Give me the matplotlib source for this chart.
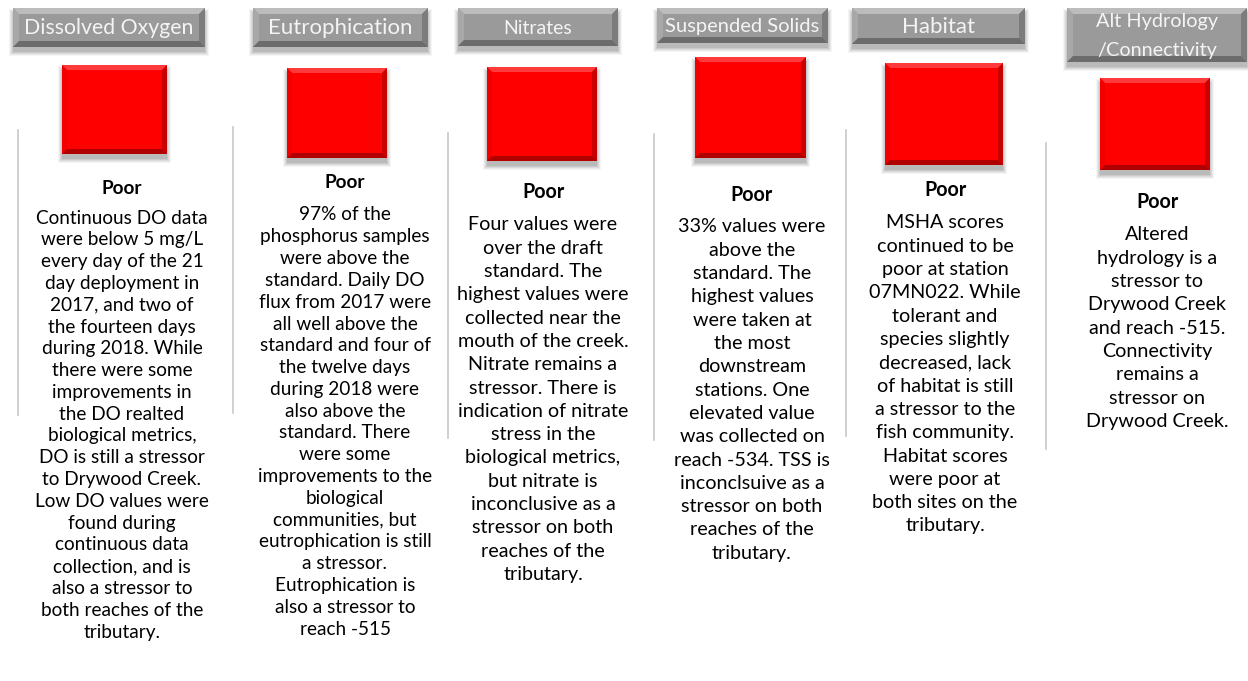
import matplotlib; matplotlib.use('Agg')
import matplotlib.pyplot as plt
from matplotlib.patches import Rectangle, Polygon

plt.rcParams['font.family'] = ['Lato', 'DejaVu Sans']

# ---------- content ----------
titles = ['Dissolved Oxygen', 'Eutrophication', 'Nitrates', 'Suspended Solids',
          'Habitat', 'Alt Hydrology\n/Connectivity']
ratings = ['Poor', 'Poor', 'Poor', 'Poor', 'Poor', 'Poor']
notes = [
    'Continuous DO data\nwere below 5 mg/L\nevery day of the 21\nday deployment in\n2017, and two of\n'
    'the fourteen days\nduring 2018. While\nthere were some\nimprovements in\nthe DO realted\n'
    'biological metrics,\nDO is still a stressor\nto Drywood Creek.\nLow DO values were\nfound during\n'
    'continuous data\ncollection, and is\nalso a stressor to\nboth reaches of the\ntributary.',
    '97% of the\nphosphorus samples\nwere above the\nstandard. Daily DO\nflux from 2017 were\n'
    'all well above the\nstandard and four of\nthe twelve days\nduring 2018 were\nalso above the\n'
    'standard. There\nwere some\nimprovements to the\nbiological\ncommunities, but\n'
    'eutrophication is still\na stressor.\nEutrophication is\nalso a stressor to\nreach -515',
    'Four values were\nover the draft\nstandard. The\nhighest values were\ncollected near the\n'
    'mouth of the creek.\nNitrate remains a\nstressor. There is\nindication of nitrate\nstress in the\n'
    'biological metrics,\nbut nitrate is\ninconclusive as a\nstressor on both\nreaches of the\ntributary.',
    '33% values were\nabove the\nstandard. The\nhighest values\nwere taken at\nthe most\n'
    'downstream\nstations. One\nelevated value\nwas collected on\nreach -534. TSS is\n'
    'inconclsuive as a\nstressor on both\nreaches of the\ntributary.',
    'MSHA scores\ncontinued to be\npoor at station\n07MN022. While\ntolerant and\n'
    'species slightly\ndecreased, lack\nof habitat is still\na stressor to the\nfish community.\n'
    'Habitat scores\nwere poor at\nboth sites on the\ntributary.',
    'Altered\nhydrology is a\nstressor to\nDrywood Creek\nand reach -515.\nConnectivity\n'
    'remains a\nstressor on\nDrywood Creek.',
]

# ---------- layout (pixels, y down) ----------
hdr_box = [(13, 8, 192, 39), (253, 8, 175, 39), (458, 8, 160, 38), (657, 8, 171, 35),
           (852, 8, 173, 36), (1067, 8, 180, 54)]
hdr_fs = [15.3, 16, 14, 14.5, 16, 14.3]
hdr_ls = [1.2, 1.2, 1.2, 1.2, 1.2, 1.85]
sq_box = [(62, 65, 105, 89), (287, 68, 100, 90), (487, 67, 110, 94), (695, 57, 111, 101),
          (885, 63, 118, 102), (1100, 78, 110, 92)]
col_x = [122, 345, 543, 752, 945, 1157]
poor_y = [188, 183, 192, 195, 190, 202]
first_y = [218, 215, 225, 227, 223, 235]
step = [21.8, 21.8, 23.3, 23.3, 23.3, 23.3]
body_fs = [13.7, 13.7, 14.2, 14.2, 14.2, 14.2]
vlines = [(18, 130, 415), (233, 127, 413), (448, 133, 438), (654, 134, 440),
          (846, 130, 436), (1046, 143, 449)]

fig = plt.figure(figsize=(12.48, 6.81), dpi=100)
ax = fig.add_axes([0, 0, 1, 1])
ax.set_xlim(0, 1248); ax.set_ylim(681, 0); ax.axis('off')


def shadow(x, y, w, h, dy=4):
    for k, a in enumerate([0.04, 0.05, 0.06, 0.07, 0.08]):
        g = 5 - k
        ax.add_patch(Rectangle((x - g + 1, y + dy - g + 2), w + 2*g - 2, h + 2*g - 2,
                               fc='black', ec='none', alpha=a, zorder=1))


def bevel(x, y, w, h, face, top, left, right, bottom, b=5):
    shadow(x, y, w, h)
    ax.add_patch(Rectangle((x, y), w, h, fc=face, ec='none', zorder=2))
    ax.add_patch(Polygon([(x, y), (x+w, y), (x+w-b, y+b), (x+b, y+b)], fc=top, ec='none', zorder=3))
    ax.add_patch(Polygon([(x, y), (x+b, y+b), (x+b, y+h-b), (x, y+h)], fc=left, ec='none', zorder=3))
    ax.add_patch(Polygon([(x+w, y), (x+w, y+h), (x+w-b, y+h-b), (x+w-b, y+b)], fc=right, ec='none', zorder=3))
    ax.add_patch(Polygon([(x, y+h), (x+b, y+h-b), (x+w-b, y+h-b), (x+w, y+h)], fc=bottom, ec='none', zorder=3))


for i, t in enumerate(titles):
    x, y, w, h = hdr_box[i]
    bevel(x, y, w, h, '#9a9a9a', '#bcbcbc', '#a8a8a8', '#7c7c7c', '#6c6c6c', b=6)
    ax.text(x + w/2, y + h/2 + 1, t, ha='center', va='center', fontsize=hdr_fs[i],
            color='#f4f4f4', linespacing=hdr_ls[i], zorder=5)

    x, y, w, h = sq_box[i]
    bevel(x, y, w, h, '#ff0000', '#ff3a3a', '#f20000', '#c80000', '#b00000', b=5)

    lx, y0, y1 = vlines[i]
    ax.plot([lx, lx], [y0, y1], color='#c8c8c8', lw=1.2, zorder=1)

    ax.text(col_x[i], poor_y[i], ratings[i], ha='center', va='center', fontsize=body_fs[i],
            fontweight='bold', color='black')
    for k, line in enumerate(notes[i].split('\n')):
        ax.text(col_x[i], first_y[i] + k*step[i], line, ha='center', va='center',
                fontsize=body_fs[i], color='black')

plt.savefig('out.png', dpi=100)
plt.close()
